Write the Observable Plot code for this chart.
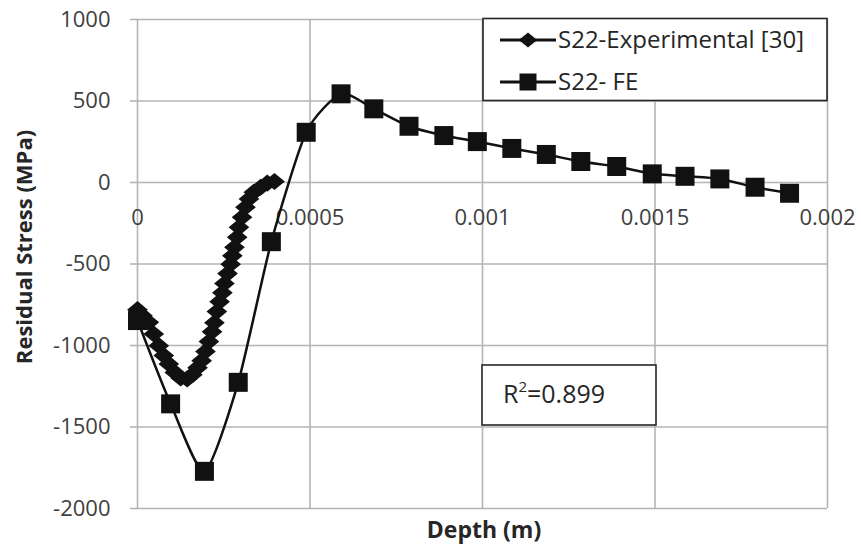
<!DOCTYPE html>
<html><head><meta charset="utf-8">
<script src="https://cdn.jsdelivr.net/npm/d3@7"></script>
<script src="https://cdn.jsdelivr.net/npm/@observablehq/plot@0.6"></script>
<style>
body{margin:0;background:#fff;}
#chart{position:relative;width:861px;height:546px;}
</style>
</head><body><div id="chart"></div>
<script>
// ---- data ----
const seriesNames = ["S22-Experimental [30]", "S22- FE"];
const feDepth = [0, 0.000096, 0.000194, 0.000292, 0.000388, 0.000489, 0.00059, 0.000685, 0.000787, 0.000888,
  0.000985, 0.001085, 0.001185, 0.001285, 0.001389, 0.001492, 0.001587, 0.001688, 0.00179, 0.00189];
const feStress = [-847, -1358, -1772, -1226, -363, 308, 544, 452, 345, 288,
  251, 209, 172, 129, 98, 53, 38, 22, -29, -66];
const expDepth = [0, 0.0000145, 0.0000328, 0.0000472, 0.0000617, 0.0000762, 0.0000907, 0.000108, 0.000125, 0.000144,
  0.000159, 0.000174, 0.000186, 0.000197, 0.000207, 0.000216, 0.000223, 0.00023, 0.000238, 0.000246,
  0.000252, 0.000261, 0.00027, 0.000275, 0.000281, 0.000289, 0.000294, 0.000303, 0.000313, 0.000323,
  0.000337, 0.000357, 0.000376, 0.000397];
const expStress = [-780, -817, -858, -929, -1001, -1062, -1113, -1165, -1199, -1205,
  -1179, -1136, -1093, -1037, -976, -915, -860, -792, -731, -676,
  -620, -559, -501, -449, -398, -336, -275, -213, -152, -101,
  -60, -29, -4, 6];
const xTicks = [0, 0.0005, 0.001, 0.0015, 0.002];
const xTickLabels = ["0", "0.0005", "0.001", "0.0015", "0.002"];
const yTicks = [-2000, -1500, -1000, -500, 0, 500, 1000];
const xTitle = "Depth (m)";
const yTitle = "Residual Stress (MPa)";
const r2Value = "0.899";

// ---- build ----
const fe = feDepth.map((d, i) => ({depth: d, stress: feStress[i]}));
const ex = expDepth.map((d, i) => ({depth: d, stress: expStress[i]}));

const diamond = {draw(ctx, size) {
  const r = Math.sqrt(size / Math.PI); const w = r * 1.15, h = r * 0.95;
  ctx.moveTo(0, -h); ctx.lineTo(w, 0); ctx.lineTo(0, h); ctx.lineTo(-w, 0); ctx.closePath();
}};
const square = {draw(ctx, size) {
  const r = Math.sqrt(size / Math.PI); ctx.rect(-r, -r, 2 * r, 2 * r);
}};

const gridColor = "#b4b4b4";
const textColor = "#404040";
const ink = "#111111";
const font = "'Open Sans', sans-serif";

const plot = Plot.plot({
  width: 861, height: 546,
  marginLeft: 137, marginRight: 34, marginTop: 19, marginBottom: 38,
  style: {fontFamily: font, background: "white", overflow: "visible"},
  x: {domain: [0, 0.002], axis: null},
  y: {domain: [-2000, 1000], axis: null},
  marks: [
    Plot.gridX(xTicks, {stroke: gridColor, strokeOpacity: 1, strokeWidth: 1.6}),
    Plot.gridY(yTicks, {stroke: gridColor, strokeOpacity: 1, strokeWidth: 1.6}),
    Plot.axisY(yTicks, {tickSize: 7, tickPadding: 20, stroke: gridColor, strokeWidth: 1.6, fill: textColor,
      fontSize: 22, tickFormat: d => String(d), label: null}),
    Plot.text(xTicks, {x: d => d, y: 0, dy: 35, text: (d, i) => xTickLabels[i], fill: textColor, fontSize: 22}),
    Plot.line(ex, {x: "depth", y: "stress", stroke: ink, strokeWidth: 3}),
    Plot.line(fe, {x: "depth", y: "stress", stroke: ink, strokeWidth: 2.5, curve: "cardinal", tension: 0.35}),
    Plot.dot(ex, {x: "depth", y: "stress", symbol: diamond, r: 9, fill: ink, stroke: "none"}),
    Plot.dot(fe, {x: "depth", y: "stress", symbol: square, r: 9.5, fill: ink, stroke: "none"})
  ]
});
document.getElementById("chart").appendChild(plot);

const svg = d3.select(plot);
// axis titles
svg.append("text").attr("transform", "translate(24,247) rotate(-90)")
  .attr("text-anchor", "middle").attr("dy", "0.35em")
  .attr("font-family", font).attr("font-weight", "bold").attr("font-size", 22).attr("fill", "#262626")
  .text(yTitle);
svg.append("text").attr("x", 484).attr("y", 530).attr("dy", "0.35em")
  .attr("text-anchor", "middle")
  .attr("font-family", font).attr("font-weight", "bold").attr("font-size", 23).attr("fill", "#262626")
  .text(xTitle);

// ---- legend & R² annotation ----
const lg = svg.append("g");
lg.append("rect").attr("x", 483).attr("y", 18.5).attr("width", 344).attr("height", 82)
  .attr("fill", "white").attr("stroke", "#262626").attr("stroke-width", 1.6);
const rows = [{y: 40, sym: diamond, r: 8}, {y: 82, sym: square, r: 8.5}];
rows.forEach((row, i) => {
  lg.append("line").attr("x1", 500).attr("x2", 556).attr("y1", row.y).attr("y2", row.y)
    .attr("stroke", ink).attr("stroke-width", 3);
  lg.append("path").attr("transform", `translate(528,${row.y})`)
    .attr("d", d3.symbol(row.sym, Math.PI * row.r * row.r)()).attr("fill", ink);
  lg.append("text").attr("x", 558).attr("y", row.y).attr("dy", "0.35em")
    .attr("text-anchor", "start")
    .attr("font-family", font).attr("font-size", 24).attr("fill", "#262626")
    .text(seriesNames[i]);
});
const rg = svg.append("g");
rg.append("rect").attr("x", 482).attr("y", 365).attr("width", 174).attr("height", 60)
  .attr("fill", "white").attr("stroke", "#262626").attr("stroke-width", 1.6);
const rt = rg.append("text").attr("x", 503).attr("y", 403).attr("text-anchor", "start")
  .attr("font-family", font).attr("font-size", 25).attr("fill", "#262626");
rt.append("tspan").text("R");
rt.append("tspan").attr("font-size", 15).attr("dy", -11).text("2");
rt.append("tspan").attr("dy", 11).text("=" + r2Value);
</script>
</body></html>
